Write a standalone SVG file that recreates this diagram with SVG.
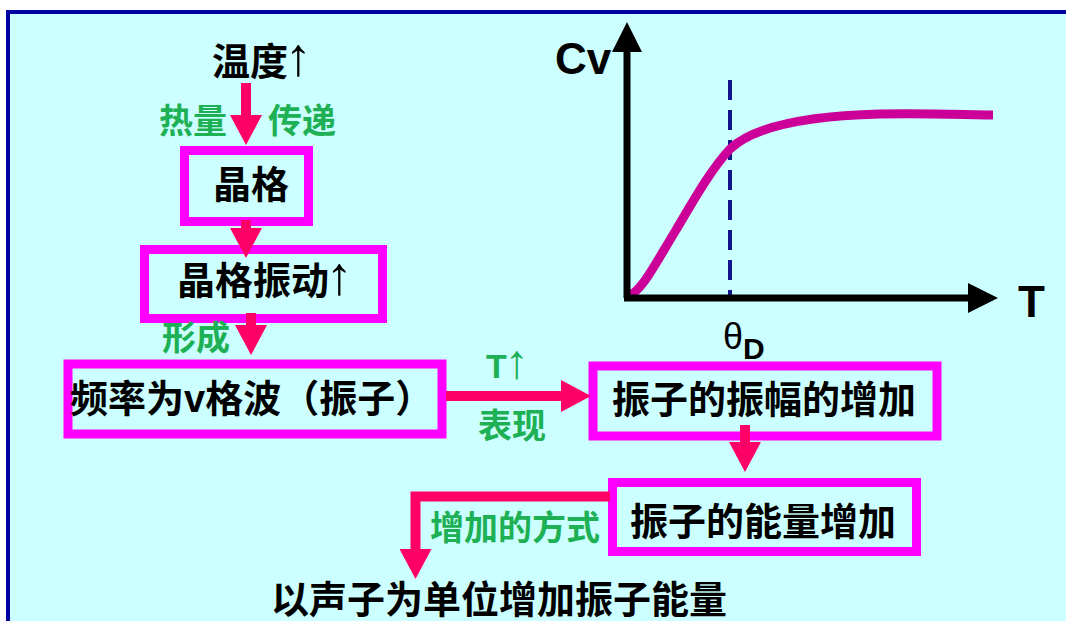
<svg xmlns="http://www.w3.org/2000/svg" width="1066" height="621" viewBox="0 0 1066 621">
<defs>
<style>
.frame{fill:#CCFFFF;stroke:#0000A0;stroke-width:4}
.box{fill:none;stroke:#FF00FF;stroke-width:9}
.lbl{font-family:"Liberation Sans","Noto Sans CJK SC",sans-serif;font-weight:bold;font-size:38px;fill:#000}
.grn{font-family:"Liberation Sans","Noto Sans CJK SC",sans-serif;font-weight:bold;font-size:34px;fill:#1DB055}
.up{font-size:54px;font-weight:normal}
.conn{fill:none;stroke:#FF0066;stroke-width:10;stroke-linejoin:miter;marker-end:url(#ah)}
.axis{fill:none;stroke:#000;stroke-width:7}
</style>
<marker id="ah" viewBox="0 0 30 32" refX="0" refY="16" markerWidth="30" markerHeight="32" markerUnits="userSpaceOnUse" orient="auto">
<path d="M0,0 L30,16 L0,32 z" fill="#FF0066"/>
</marker>
<marker id="axh" viewBox="0 0 30 30" refX="0" refY="15" markerWidth="30" markerHeight="30" markerUnits="userSpaceOnUse" orient="auto">
<path d="M0,0 L30,15 L0,30 z" fill="#000"/>
</marker>
</defs>
<rect class="frame" x="8" y="12" width="1100" height="700"/>

<g id="graph">
<line x1="730" y1="80" x2="730" y2="297" stroke="#14148C" stroke-width="4" stroke-dasharray="20 10"/>
<path d="M627 297 C642 291 654 266 676 230 C695 198 712 168 730 149 C752 128 800 116 880 114 C930 113 970 115 993 115" fill="none" stroke="#CC0099" stroke-width="9"/>
<path class="axis" d="M627 298 V52" marker-end="url(#axh)"/>
<path class="axis" d="M624 298 H968" marker-end="url(#axh)"/>
<text x="555" y="74" font-family="Liberation Sans, sans-serif" font-weight="bold" font-size="44">Cv</text>
<text x="1018" y="317" font-family="Liberation Sans, sans-serif" font-weight="bold" font-size="44">T</text>
<text x="723" y="349" font-family="Liberation Sans, sans-serif" font-size="36">θ<tspan font-weight="bold" font-size="30" dy="10">D</tspan></text>
</g>

<g id="n-temp">
<text class="lbl" x="212" y="75">温度<tspan class="up" dx="-3">↑</tspan></text>
</g>
<g id="n-lattice">
<rect class="box" x="184.5" y="150.5" width="124" height="71"/>
<text class="lbl" x="251" y="198" text-anchor="middle">晶格</text>
</g>
<g id="n-vib">
<rect class="box" x="144.5" y="249.5" width="238" height="69"/>
<text class="lbl" x="177" y="294">晶格振动<tspan class="up" dx="-3">↑</tspan></text>
</g>
<g id="n-wave">
<rect class="box" x="68" y="364" width="374" height="70" stroke-width="10"/>
<text class="lbl" x="70" y="412">频率为v格波（振子）</text>
</g>
<g id="n-amp">
<rect class="box" x="593" y="366" width="344" height="70"/>
<text class="lbl" x="764" y="412.5" text-anchor="middle">振子的振幅的增加</text>
</g>
<g id="n-energy">
<rect class="box" x="612.5" y="482.5" width="304" height="69"/>
<text class="lbl" x="763" y="534.5" text-anchor="middle">振子的能量增加</text>
</g>
<g id="n-phonon">
<text class="lbl" x="499" y="613" text-anchor="middle">以声子为单位增加振子能量</text>
</g>

<g id="connectors">
<path class="conn" d="M246 83 V115"/>
<path class="conn" d="M246 220 V228"/>
<path class="conn" d="M251 313 V325"/>
<path class="conn" d="M446 396 H561"/>
<path class="conn" d="M745 425 V442"/>
<path class="conn" d="M610 496.5 H415.5 V549"/>
<text class="grn" x="193" y="133" text-anchor="middle">热量</text>
<text class="grn" x="302" y="133" text-anchor="middle">传递</text>
<text class="grn" x="196" y="350" text-anchor="middle">形成</text>
<text class="grn" x="486" y="378">T<tspan font-size="48" font-weight="normal" dx="-2">↑</tspan></text>
<text class="grn" x="512" y="438" text-anchor="middle">表现</text>
<text class="grn" x="515" y="540" text-anchor="middle">增加的方式</text>
</g>
</svg>
